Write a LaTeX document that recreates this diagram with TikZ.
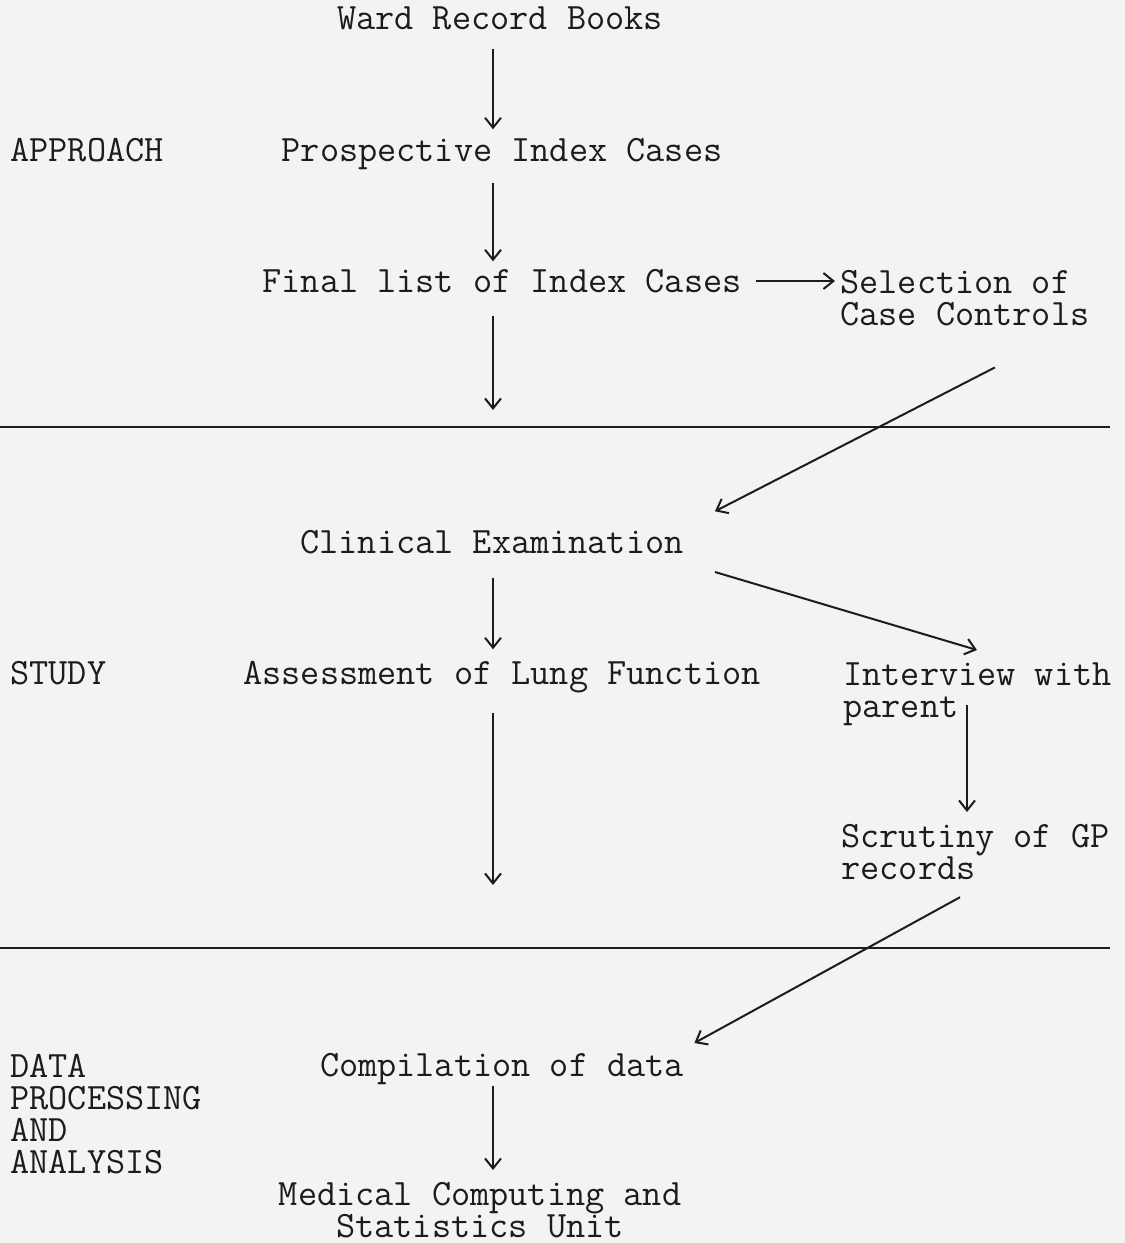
\documentclass[tikz,border=0pt]{standalone}
\usepackage{fontspec}
\usetikzlibrary{arrows.meta}
\definecolor{paper}{RGB}{243,243,241}
\definecolor{ink}{RGB}{28,28,28}
\begin{document}
\begin{tikzpicture}[
		x={(0.5pt,0pt)},
		y={(0pt,-0.5pt)},
		txt/.style={font=\ttfamily\fontsize{18.6}{16}\selectfont,text=ink,inner sep=0pt,text height=11.3pt,text depth=0pt},
		multi/.style={font=\ttfamily\fontsize{18.6}{16}\selectfont,text=ink,inner sep=0pt,align=left,anchor=north west},
		flow/.style={draw=ink,line width=1pt,-{Straight Barb[length=5pt,width=8pt]}},
		rule/.style={draw=ink,line width=1pt},
	]
		\fill[paper] (0,0) rectangle (1125,1243);
		\useasboundingbox (0,0) rectangle (1125,1243);

		% section labels
		\node[txt,anchor=west] (approach) at (10,150) {APPROACH};
		\node[txt,anchor=west] (study) at (10,673) {STUDY};
		\node[multi] (dpa) at (10,1054) {DATA\\PROCESSING\\AND\\ANALYSIS};

		% main column
		\node[txt] (ward) at (500,18) {Ward Record Books};
		\node[txt] (prosp) at (502,150) {Prospective Index Cases};
		\node[txt] (final) at (502,281) {Final list of Index Cases};
		\node[txt] (clinical) at (492,542) {Clinical Examination};
		\node[txt] (assess) at (502,673) {Assessment of Lung Function};
		\node[txt] (compil) at (502,1065) {Compilation of data};
		\node[multi,anchor=north,align=center] (mcsu) at (480,1182) {Medical Computing and\\Statistics Unit};

		% right column
		\node[multi] (sel) at (840,270) {Selection of\\Case Controls};
		\node[multi] (interview) at (843,662) {Interview with\\parent};
		\node[multi] (scrutiny) at (841,824) {Scrutiny of GP\\records};

		\coordinate (spine) at (493,0);
		\coordinate (rcol) at (967,0);
		\coordinate (down1) at (493,410);
		\coordinate (down2) at (493,885);

		% stage rules
		\foreach \y in {427,948}{
			\draw[rule] (0,\y) -- (1110,\y);
		}

		\draw[flow,shorten <=9.5pt,shorten >=4.5pt] (ward.south -| spine) -- (prosp.north -| spine);
		\draw[flow,shorten <=10.5pt,shorten >=4pt] (prosp.south -| spine) -- (final.north -| spine);
		\draw[flow,shorten <=11.5pt] (final.south -| spine) -- (down1);
		\draw[flow,shorten <=7pt,shorten >=2.5pt] (final.east) -- (final.east -| sel.west);
		\draw[flow] ([shift={(15pt,-20.5pt)}]sel.south) -- ([shift={(15.5pt,9.5pt)}]clinical.north east);
		\draw[flow,shorten <=12pt,shorten >=6pt] (clinical.south -| spine) -- (assess.north -| spine);
		\draw[flow] ([shift={(15.5pt,-15pt)}]clinical.east) -- ([shift={(67pt,6pt)}]interview.north west);
		\draw[flow,shorten <=14pt] (assess.south -| spine) -- (down2);
		\draw[flow,shorten <=-10.5pt,shorten >=6pt] (interview.south -| rcol) -- (scrutiny.north -| rcol);
		\draw[flow] ([shift={(-7.75pt,-8.5pt)}]scrutiny.south) -- ([shift={(5pt,11pt)}]compil.east);
		\draw[flow,shorten <=4.5pt,shorten >=6pt] (compil.south -| spine) -- (mcsu.north -| spine);
	\end{tikzpicture}
\end{document}
